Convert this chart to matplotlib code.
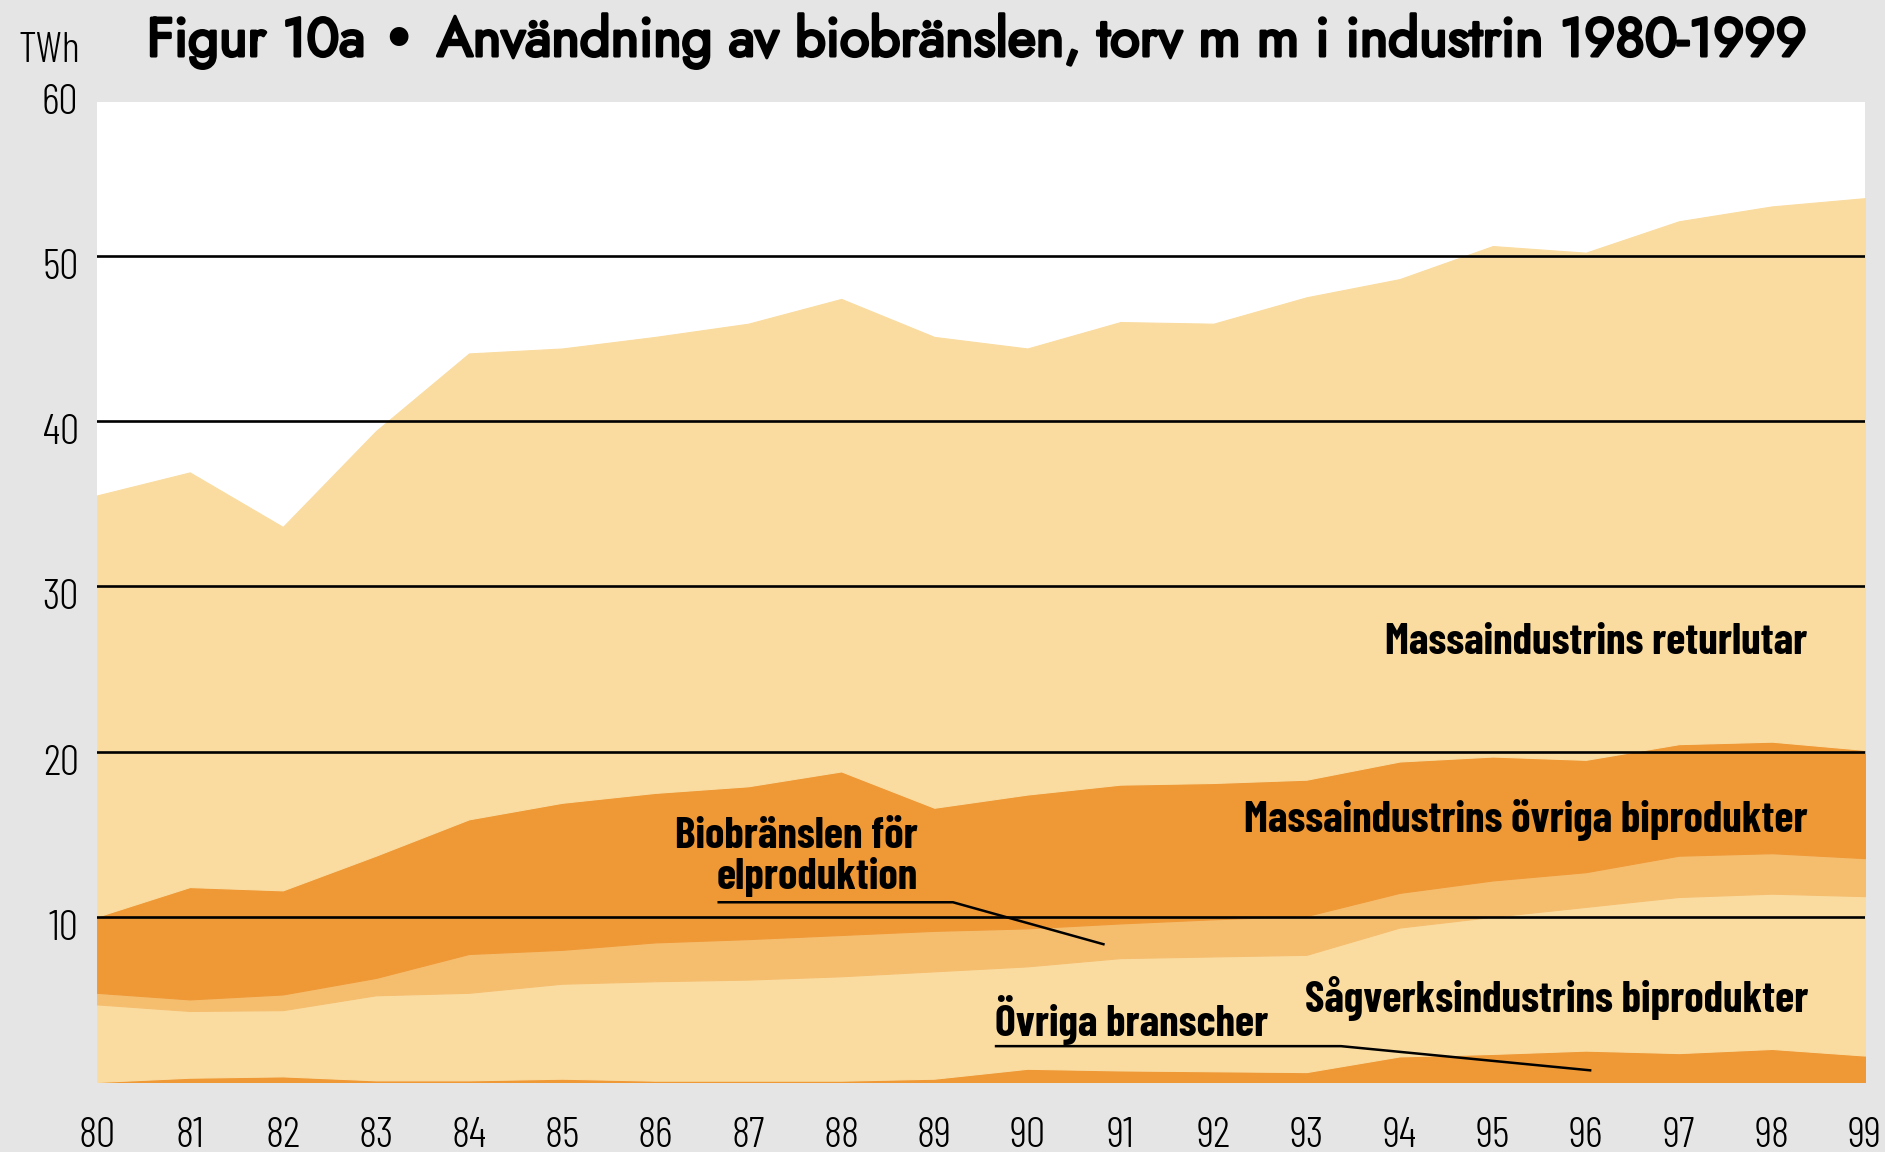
import matplotlib
matplotlib.use("Agg")
import matplotlib.pyplot as plt
import matplotlib.transforms as mtransforms
import matplotlib.patheffects as pe

years = list(range(80, 100))
year_labels = [str(y) for y in years]

# TWh per layer, bottom to top
ovriga_branscher = [0.0, 0.26, 0.34, 0.1, 0.1, 0.2, 0.08, 0.08, 0.08, 0.2,
                    0.8, 0.7, 0.65, 0.6, 1.55, 1.7, 1.9, 1.75, 2.0, 1.6]
sagverk = [4.7, 4.04, 4.01, 5.15, 5.3, 5.75, 6.02, 6.12, 6.32, 6.5,
           6.2, 6.8, 6.95, 7.1, 7.8, 8.3, 8.7, 9.45, 9.4, 9.65]
bio_el = [0.7, 0.7, 0.95, 1.05, 2.35, 2.05, 2.35, 2.45, 2.5, 2.45,
          2.3, 2.1, 2.25, 2.35, 2.1, 2.2, 2.1, 2.5, 2.45, 2.3]
massa_ovriga = [4.6, 6.8, 6.3, 7.4, 8.15, 8.9, 9.05, 9.25, 9.9, 7.45,
                8.1, 8.4, 8.25, 8.25, 7.95, 7.5, 6.8, 6.75, 6.75, 6.55]
returlutar = [25.5, 25.1, 22.0, 25.7, 28.2, 27.5, 27.6, 28.0, 28.6, 28.5,
              27.0, 28.0, 27.8, 29.2, 29.2, 30.9, 30.7, 31.65, 32.4, 33.4]

y_ticks = [10, 20, 30, 40, 50]
y_top_label = 60

light = "#FADCA0"
mid = "#F5BD6E"
dark = "#EF9836"
colors = [dark, light, mid, dark, light]

W, H = 1885, 1152
fig = plt.figure(figsize=(W / 100, H / 100), dpi=100, facecolor="#E5E5E5")
left, right, top, bottom = 96.7, 1865, 101.5, 1082
ax = fig.add_axes([left / W, 1 - bottom / H, (right - left) / W, (bottom - top) / H])
ax.set_facecolor("white")

polys = ax.stackplot(years, ovriga_branscher, sagverk, bio_el, massa_ovriga, returlutar,
                     colors=colors)
for p, c in zip(polys, colors):
    p.set_edgecolor(c)
    p.set_linewidth(0.8)

for v in y_ticks:
    ax.axhline(v, color="black", lw=1.9, zorder=3)

ax.set_xlim(80, 99)
ax.set_ylim(0, 59.35)
for s in ax.spines.values():
    s.set_visible(False)

thin = ["Barlow Condensed", "DejaVu Sans"]
ax.set_xticks(years)
ax.set_xticklabels(year_labels, family=thin, fontsize=31, fontweight=300)
ax.set_yticks(y_ticks)
ax.set_yticklabels([str(v) for v in y_ticks], family=thin, fontsize=31, fontweight=300)
ax.tick_params(axis="x", length=0, pad=25)
ax.tick_params(axis="y", length=0, pad=13)
shift = mtransforms.ScaledTranslation(0, -8 / 100, fig.dpi_scale_trans)
for lab in ax.get_yticklabels():
    lab.set_transform(lab.get_transform() + shift)
ax.text(0, y_top_label, str(y_top_label), family=thin, fontsize=31, fontweight=300,
        ha="right", va="center_baseline", clip_on=False,
        transform=ax.get_yaxis_transform()
        + mtransforms.ScaledTranslation(-18.5 / 100, -8 / 100, fig.dpi_scale_trans))

fig.text(18 / W, 1 - 62 / H, "TWh", family=thin, fontweight=300, fontsize=31,
         ha="left", va="baseline")

# title in three pieces so the bullet can be a heavy dot
title_parts = ["Figur 10a ", "\u2022", " Användning av biobränslen, torv m m i industrin 1980-1999"]
stroke = [pe.withStroke(linewidth=2.2, foreground="black")]
renderer = fig.canvas.get_renderer()
x0 = 147
for part in title_parts:
    if part == "\u2022":
        t = fig.text(x0 / W, 1 - 56 / H, part, family="DejaVu Sans", fontweight="bold",
                     fontsize=38.5, ha="left", va="baseline")
    else:
        t = fig.text(x0 / W, 1 - 56 / H, part, family=["Jost", "DejaVu Sans"],
                     fontsize=39, ha="left", va="baseline", path_effects=stroke)
    bb = t.get_window_extent(renderer)
    x0 = bb.x1 + (5 if part == "\u2022" else 0)

lab_kw = dict(family=thin, fontweight=700, fontsize=31.5, va="baseline", zorder=5)
ax.text(98.38, 25.9, "Massaindustrins returlutar", ha="right", **lab_kw)
ax.text(98.38, 15.14, "Massaindustrins övriga biprodukter", ha="right", **lab_kw)
ax.text(98.39, 4.25, "Sågverksindustrins biprodukter", ha="right", **lab_kw)
ax.text(88.82, 14.17, "Biobränslen för", ha="right", **lab_kw)
ax.text(88.82, 11.69, "elproduktion", ha="right", **lab_kw)
ax.text(89.65, 2.77, "Övriga branscher", ha="left", **lab_kw)

ax.plot([86.67, 89.2, 90.83], [10.88, 10.88, 8.32], color="black", lw=1.8, zorder=5,
        solid_capstyle="butt")
ax.plot([89.65, 93.37, 96.06], [2.17, 2.17, 0.7], color="black", lw=1.8, zorder=5,
        solid_capstyle="butt")

fig.savefig("out.png", dpi=100, facecolor=fig.get_facecolor())
